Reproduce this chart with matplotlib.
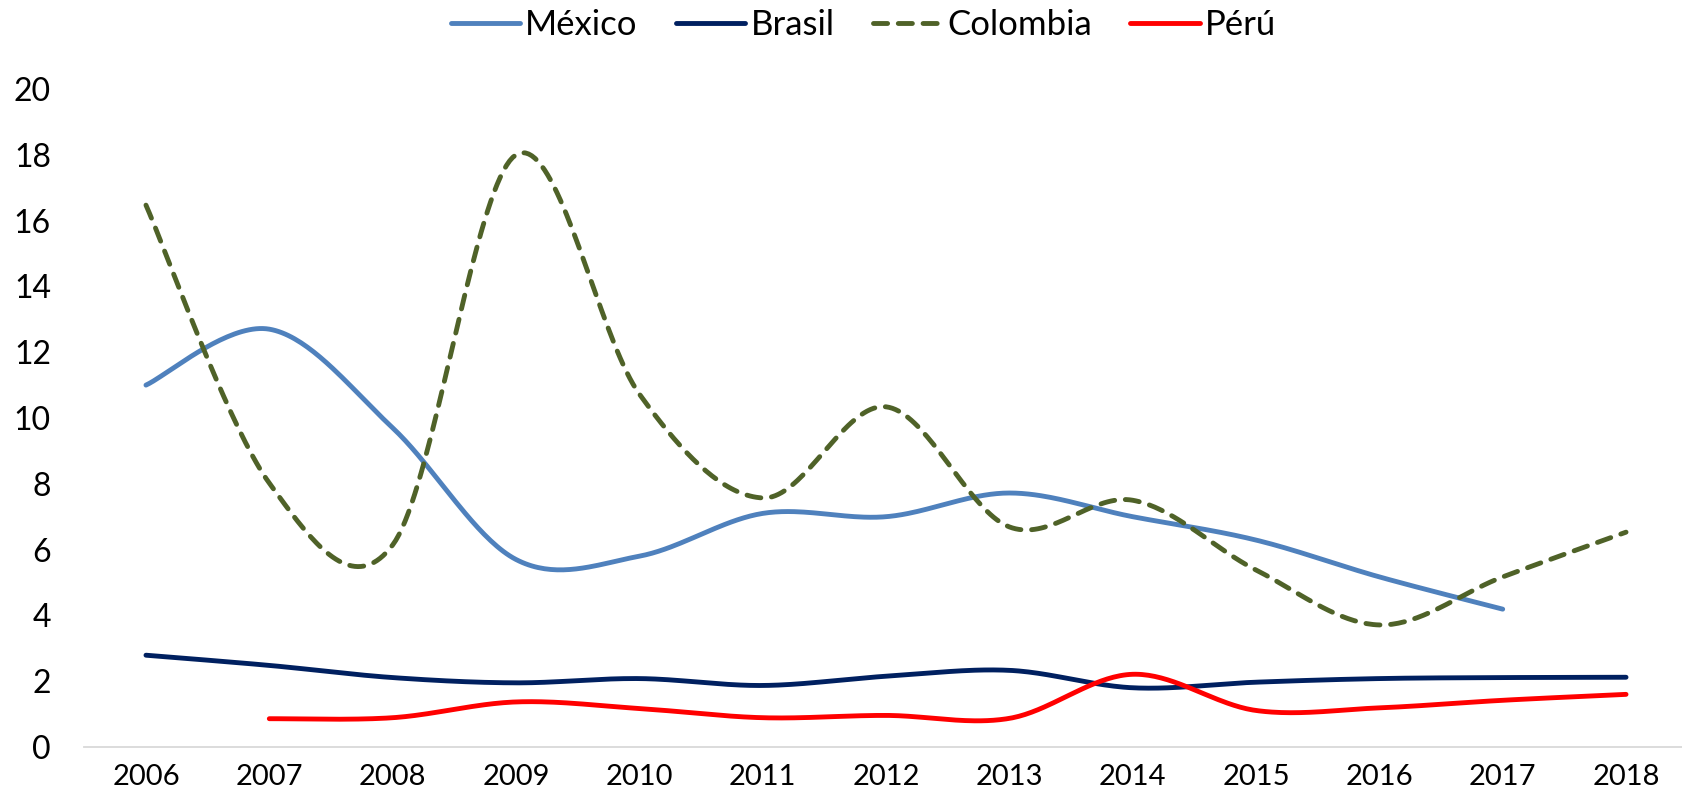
import numpy as np
import matplotlib
matplotlib.use("Agg")
import matplotlib.pyplot as plt

plt.rcParams['font.family'] = ['Lato', 'DejaVu Sans']

# data
years = [2006, 2007, 2008, 2009, 2010, 2011, 2012, 2013, 2014, 2015, 2016, 2017, 2018]
mexico = [11.0, 12.7, 9.7, 5.7, 5.8, 7.1, 7.0, 7.72, 7.0, 6.29, 5.17, 4.19]          # 2006-2017
brasil = [2.79, 2.48, 2.11, 1.95, 2.08, 1.87, 2.15, 2.33, 1.80, 1.97, 2.08, 2.11, 2.12]
colombia = [16.47, 8.02, 6.14, 18.0, 10.73, 7.57, 10.34, 6.69, 7.5, 5.38, 3.71, 5.17, 6.53]
peru = [0.86, 0.89, 1.37, 1.17, 0.89, 0.96, 0.87, 2.21, 1.11, 1.19, 1.42, 1.60]        # 2007-2018


def smooth(xs, ys, n=40):
    # Excel-like smoothed line: cubic bezier with catmull-rom control points
    x = np.asarray(xs, float)
    y = np.asarray(ys, float)
    px = np.concatenate([[x[0]], x, [x[-1]]])
    py = np.concatenate([[y[0]], y, [y[-1]]])
    t = np.linspace(0, 1, n)[:, None]
    outx, outy = [], []
    for i in range(1, len(px) - 2):
        p0 = np.array([px[i], py[i]])
        p3 = np.array([px[i + 1], py[i + 1]])
        c1 = p0 + (np.array([px[i + 1], py[i + 1]]) - np.array([px[i - 1], py[i - 1]])) / 6
        c2 = p3 - (np.array([px[i + 2], py[i + 2]]) - np.array([px[i], py[i]])) / 6
        pts = ((1 - t) ** 3) * p0 + 3 * ((1 - t) ** 2) * t * c1 + 3 * (1 - t) * t ** 2 * c2 + t ** 3 * p3
        outx.append(pts[:, 0])
        outy.append(pts[:, 1])
    return np.concatenate(outx), np.concatenate(outy)


W, H = 1683, 802
fig = plt.figure(figsize=(W / 100, H / 100), dpi=100)
x0, x1 = 84.3, 1687.7
ax = fig.add_axes([x0 / W, 1 - 747 / H, (x1 - x0) / W, (747 - 89) / H])

idx = np.arange(len(years))
lw = 3.5

sx, sy = smooth(idx[:len(mexico)], mexico)
ax.plot(sx, sy, color='#4F81BD', lw=lw, solid_capstyle='round', label='México')
sx, sy = smooth(idx, brasil)
ax.plot(sx, sy, color='#002060', lw=lw, solid_capstyle='round', label='Brasil')
sx, sy = smooth(idx, colombia)
ax.plot(sx, sy, color='#4F6228', lw=lw, linestyle=(0, (2.9, 2.2)), dash_capstyle='round',
        label='Colombia')
sx, sy = smooth(idx[1:], peru)
ax.plot(sx, sy, color='#FF0000', lw=lw, solid_capstyle='round', label='Pérú')

ax.set_xlim(-0.5, len(years) - 0.5)
ax.set_ylim(0, 20)
ax.set_yticks(range(0, 21, 2))
ax.set_xticks(idx)
ax.set_xticklabels([str(y) for y in years])
ax.tick_params(axis='y', length=0, labelsize=23, pad=24)
ax.tick_params(axis='x', length=0, labelsize=21, pad=12)

for s in ['top', 'right', 'left']:
    ax.spines[s].set_visible(False)
ax.spines['bottom'].set_color('#D9D9D9')
ax.spines['bottom'].set_linewidth(1.3)

fig.legend(loc='center', bbox_to_anchor=(0.513, 1 - 25 / H), ncol=4, frameon=False,
           fontsize=25, handlelength=2.0, handletextpad=0.15, columnspacing=1.1)

fig.savefig('out.png', dpi=100)
